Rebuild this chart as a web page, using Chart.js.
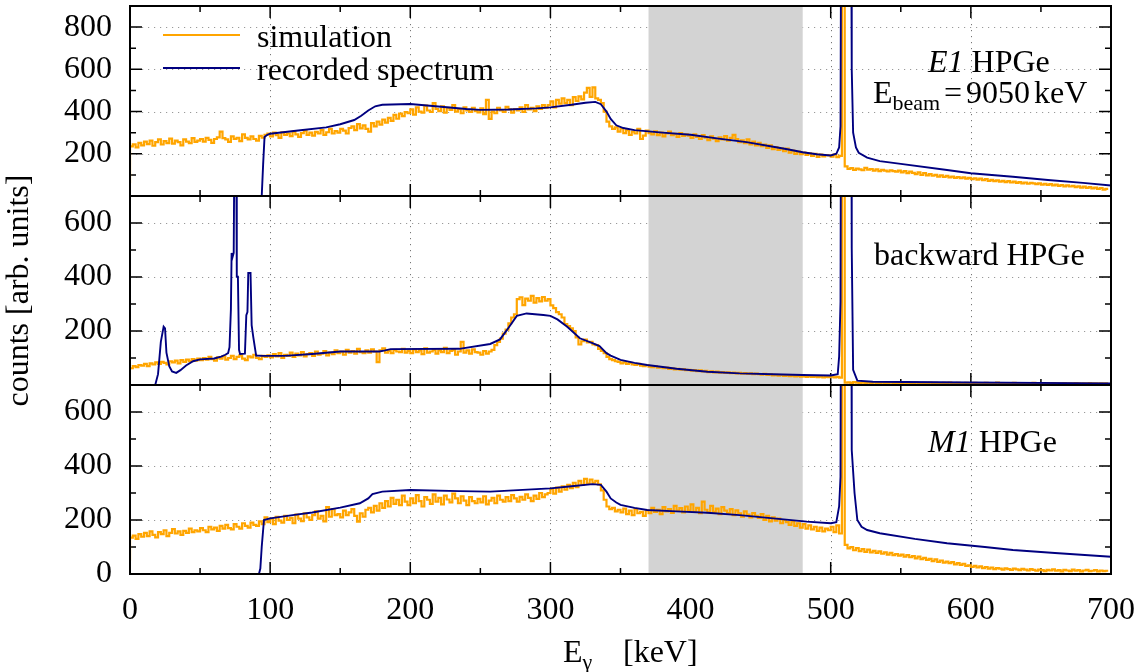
<!DOCTYPE html>
<html lang="en">
<head>
  <meta charset="UTF-8" />
  <title>HPGe spectra - simulation vs recorded</title>
  <script src="https://cdn.jsdelivr.net/npm/chart.js"></script>
  <style>
    html,body{margin:0;padding:0;background:#fff;}
    .stage{position:relative;width:1146px;height:672px;}
    .stage canvas{position:absolute;left:0;top:0;}
  </style>
</head>
<body>
  <div class="stage">
    <canvas id="panelE1" width="1146" height="672"></canvas>
    <canvas id="panelBack" width="1146" height="672"></canvas>
    <canvas id="panelM1" width="1146" height="672"></canvas>
  </div>

  <script>
    // histogram bin width of the simulated spectra (keV), bins start at 0
    const BIN_KEV = 2;

    const energyTicks = [0,100,200,300,400,500,600,700];
    const gapBand = [370,480];

    // ---- E1 HPGe ----
    const simE1 = [
      60,235,245,230,252,240,258,246,262,238,255,268,244,260,250,272,248,262,255,240,268,258,250,274,256,
      262,270,258,275,266,252,270,278,305,274,268,256,282,270,276,260,292,275,268,282,270,262,285,276,290,
      295,282,300,288,275,302,290,296,284,305,292,280,298,310,290,300,286,304,296,312,290,302,318,296,308,
      300,318,310,296,322,330,312,340,320,335,318,305,345,330,352,338,362,348,370,356,384,366,390,378,398,
      392,410,385,420,400,395,428,405,398,440,412,402,425,395,418,408,430,400,412,392,420,405,398,418,402,
      396,415,388,455,365,400,392,418,405,398,422,410,395,412,406,420,398,430,410,418,402,425,412,430,418,
      430,448,420,455,438,462,440,455,430,468,450,472,458,490,512,470,515,462,455,440,400,352,330,318,325,
      305,320,298,312,290,305,296,318,270,286,310,298,292,306,288,300,282,296,305,288,294,280,298,285,292,
      286,275,292,280,270,288,276,265,282,272,260,278,268,284,262,275,290,270,255,264,250,268,245,258,240,
      252,236,244,228,240,222,232,218,226,212,224,205,215,200,210,198,206,195,202,190,200,185,196,188,194,
      192,186,196,184,190,5000,140,128,132,124,130,126,122,133,125,128,120,126,118,124,120,116,122,118,115,
      120,112,118,108,115,110,104,112,100,108,98,104,96,100,92,98,90,95,88,92,86,90,84,88,82,
      86,80,84,78,82,75,80,72,76,70,74,68,72,66,70,64,68,62,66,60,64,58,62,60,56,
      60,54,58,52,56,50,54,48,52,46,50,45,48,42,46,40,44,38,42,36,40,34,38,30,34
    ];
    const recE1Energy = [
      0,94,95,96,98,100,120,140,150,160,
      165,170,175,180,200,220,240,250,270,290,
      300,315,325,332,336,340,343,347,352,360,
      380,400,420,440,460,470,480,490,500,504,
      506,507,507.5,514.5,515,516,518,520,526,535,
      550,583,600,630,655,680,700
    ];
    const recE1Counts = [
      0,0,150,280,290,295,310,325,340,360,
      380,405,425,432,436,424,412,408,410,415,
      420,432,442,446,435,400,365,335,322,312,
      300,290,272,255,232,220,207,198,192,200,
      230,330,1500,1500,600,300,230,205,182,165,
      152,123,108,91,76,62,50
    ];

    // ---- backward HPGe ----
    const simBack = [
      55,62,70,66,74,72,78,70,80,76,84,78,86,82,76,88,84,90,80,92,86,94,88,96,90,
      98,92,100,94,104,96,90,102,98,106,94,100,108,96,104,110,98,92,106,102,112,100,96,108,104,
      110,102,114,106,118,100,112,108,120,104,116,110,122,106,114,118,108,124,112,116,126,110,120,114,128,
      118,124,112,130,120,126,116,134,122,118,128,120,132,124,85,128,136,120,126,118,130,124,122,134,120,
      126,118,132,122,128,114,136,120,124,130,116,128,122,138,118,126,130,112,124,160,120,128,116,132,122,
      120,112,126,116,124,130,148,160,172,190,205,228,250,262,318,325,296,320,312,330,305,322,310,326,312,
      318,295,285,270,262,250,226,218,210,200,176,150,162,168,158,160,150,148,134,126,118,104,96,92,88,
      86,80,84,78,82,76,74,78,72,70,74,68,66,70,64,66,62,64,60,62,58,60,57,59,55,
      56,53,55,51,54,50,52,48,51,47,50,46,48,45,47,44,46,43,45,42,44,41,43,40,42,
      40,38,41,37,39,36,38,35,37,34,36,33,35,32,34,31,33,30,32,30,31,29,31,28,30,
      29,31,28,30,27,5000,9,10,8,11,9,8,10,7,9,8,10,7,8,9,7,8,10,7,8,
      8,7,9,6,8,7,9,7,6,8,7,9,6,8,7,6,8,7,9,6,7,8,6,7,8,
      7,6,8,6,7,5,8,6,7,6,9,6,7,5,7,6,8,6,7,5,6,7,6,8,6,
      6,5,7,6,5,7,6,5,6,7,5,6,5,7,6,5,6,5,7,5,6,5,6,5,6
    ];
    const recBackEnergy = [
      0,18,20,22,24,25,26,28,30,33,
      36,40,45,50,60,65,68,70,71,72,
      72.5,73,74,74.5,75.8,76.2,77,77.8,78.5,82,
      83,83.8,84.4,86,86.8,88,90,95,110,130,
      150,178,182,186,235,257,264,269,276,283,
      295,300,305,312,321,330,335,340,343,350,
      360,369,390,412,435,459,480,500,505,506,
      507,507.5,514.5,515,516,519,530,600,700
    ];
    const recBackCounts = [
      0,0,40,160,216,210,120,70,50,45,
      55,72,88,95,98,105,112,118,140,280,
      489,470,489,900,900,401,401,130,115,116,
      259,270,415,415,222,176,109,108,108,115,
      124,124,128,133,134,152,169,204,256,265,
      259,256,243,216,173,155,144,118,109,93,
      82,74,60,49,43,40,37,35,40,105,
      308,1500,1500,507,56,16,12,9,6
    ];

    // ---- M1 HPGe ----
    const simM1 = [
      50,135,142,130,148,138,152,140,158,145,136,155,148,162,140,152,166,150,158,145,160,152,168,155,162,
      158,170,162,155,175,165,172,160,178,168,182,170,165,185,175,168,188,178,172,190,182,178,195,185,210,
      192,205,185,212,198,190,215,200,208,188,220,205,196,225,210,200,218,232,205,215,195,248,212,240,218,
      222,210,235,218,228,240,215,194,225,212,238,245,228,252,235,262,245,270,250,282,260,275,255,290,268,
      255,280,262,292,270,250,285,275,260,295,268,282,258,290,276,265,298,280,262,288,272,255,285,270,262,
      278,265,288,258,272,282,262,290,275,268,285,270,292,280,268,286,275,295,282,270,290,278,300,285,295,
      300,315,298,320,305,325,312,330,318,338,322,345,330,352,335,350,338,345,332,310,275,250,240,245,232,
      238,228,242,222,235,218,240,225,230,215,236,225,245,230,238,222,248,232,240,226,252,235,244,228,250,
      235,258,230,245,225,268,238,228,252,230,242,222,248,235,226,240,218,236,225,212,232,220,210,226,215,
      208,222,200,215,195,210,198,205,188,200,192,182,195,178,188,172,185,168,180,165,175,160,172,158,168,
      162,175,155,180,150,5000,108,95,100,88,96,85,92,82,90,80,86,78,84,75,80,72,78,70,74,
      68,72,64,70,62,66,58,64,55,60,52,56,48,54,45,50,42,46,40,44,36,40,34,38,30,
      32,26,30,24,28,22,26,20,24,18,22,20,16,21,18,15,20,17,14,19,16,13,18,15,12,
      16,14,11,15,13,17,12,14,10,15,13,11,16,12,14,10,13,15,11,12,14,10,13,11,12
    ];
    const recM1Energy = [
      0,92,93,94,95.6,100,116,130,150,164,
      170,173,180,200,235,257,300,315,330,336,
      340,343,347,350,360,369,390,412,435,459,
      483,500,504,506,507,507.5,514.5,515,517,519,
      522,526,535,560,583,610,630,660,700
    ];
    const recM1Counts = [
      0,0,20,101,200,206,218,228,246,262,
      280,296,305,311,307,305,317,325,333,330,
      305,280,265,256,245,237,232,227,218,206,
      194,188,192,250,360,1500,1500,459,300,200,
      175,163,151,130,114,100,89,78,64
    ];

    const yTicksE1 = [200,400,600,800];
    const yTicksBack = [200,400,600];
    const yTicksM1 = [0,200,400,600];

    const SERIF = "'Liberation Serif', 'DejaVu Serif', serif";
    const ORANGE = '#ffa500';
    const NAVY = '#000080';
    const FONT_PX = 32;

    function hist(counts){ return counts.map((c,i)=>({x:i*BIN_KEV,y:c})); }
    function curve(E,C){ return E.map((e,i)=>({x:e,y:C[i]})); }

    // text runs; a run may jump to an absolute x with "at"
    function drawRuns(ctx,x,y,runs){
      runs.forEach(r=>{
        const size=r.size||FONT_PX;
        if(typeof r.at==='number') x=r.at;
        ctx.font=(r.italic?'italic ':'')+size+'px '+SERIF;
        ctx.fillText(r.t,x,y+(r.dy||0));
        x+=ctx.measureText(r.t).width;
      });
    }

    // frame, inward ticks, dotted grid, grey band, legend and panel labels
    function makeDeco(cfg){
      return {
        id:'panelDeco',
        beforeDatasetsDraw(chart){
          const {ctx,chartArea:a,scales:{x,y}}=chart;
          ctx.save();
          ctx.lineWidth=1;
          ctx.setLineDash([1.2,4.8]);
          ctx.strokeStyle='#777';
          energyTicks.forEach(v=>{
            if(v<=0||v>=700) return;
            const px=Math.round(x.getPixelForValue(v))+0.5;
            ctx.beginPath();ctx.moveTo(px,a.top);ctx.lineTo(px,a.bottom);ctx.stroke();
          });
          ctx.strokeStyle='#999';
          cfg.yTicks.forEach(v=>{
            if(v<=0) return;
            const py=Math.round(y.getPixelForValue(v))+0.5;
            ctx.beginPath();ctx.moveTo(a.left,py);ctx.lineTo(a.right,py);ctx.stroke();
          });
          ctx.setLineDash([]);
          ctx.strokeStyle='#000';
          ctx.lineWidth=1.5;
          for(let v=50;v<700;v+=50){
            const px=x.getPixelForValue(v), len=v%100===0?12:6;
            ctx.beginPath();
            ctx.moveTo(px,a.top);ctx.lineTo(px,a.top+len);
            ctx.moveTo(px,a.bottom);ctx.lineTo(px,a.bottom-len);
            ctx.stroke();
          }
          for(let v=100;v<cfg.yMax;v+=100){
            const py=y.getPixelForValue(v), len=v%200===0?12:6;
            ctx.beginPath();
            ctx.moveTo(a.left,py);ctx.lineTo(a.left+len,py);
            ctx.moveTo(a.right,py);ctx.lineTo(a.right-len,py);
            ctx.stroke();
          }
          const b0=x.getPixelForValue(gapBand[0]), b1=x.getPixelForValue(gapBand[1]);
          ctx.fillStyle='#d3d3d3';
          ctx.fillRect(b0,a.top,b1-b0,a.bottom-a.top);
          ctx.restore();
        },
        afterDatasetsDraw(chart){
          const {ctx,chartArea:a}=chart;
          ctx.save();
          ctx.strokeStyle='#000';
          ctx.lineWidth=2;
          ctx.strokeRect(a.left,a.top,a.right-a.left,a.bottom-a.top);
          ctx.restore();
        },
        afterDraw(chart){
          const {ctx}=chart;
          ctx.save();
          ctx.fillStyle='#000';
          ctx.textBaseline='alphabetic';
          ctx.textAlign='left';
          if(cfg.legend){
            [[ORANGE,'simulation',35],[NAVY,'recorded spectrum',68]].forEach(([c,t,ly])=>{
              ctx.strokeStyle=c;ctx.lineWidth=2;
              ctx.beginPath();ctx.moveTo(163,ly);ctx.lineTo(240,ly);ctx.stroke();
              ctx.font=FONT_PX+'px '+SERIF;
              ctx.fillText(t,257,ly+12);
            });
          }
          (cfg.texts||[]).forEach(l=>drawRuns(ctx,l.x,l.y,l.runs));
          ctx.restore();
        }
      };
    }

    function makePanel(id,cfg){
      const tickFont={family:SERIF,size:FONT_PX};
      return new Chart(document.getElementById(id),{
        type:'line',
        data:{datasets:[
          {label:'recorded spectrum',data:curve(cfg.recE,cfg.recC),borderColor:NAVY,
           borderWidth:1.9,pointRadius:0,tension:0,order:1},
          {label:'simulation',data:hist(cfg.sim),borderColor:ORANGE,
           borderWidth:2.2,pointRadius:0,stepped:'after',order:2}
        ]},
        options:{
          responsive:false,
          animation:false,
          layout:{padding:{top:cfg.padTop,bottom:cfg.padBottom,left:0,right:35}},
          plugins:{legend:{display:false},tooltip:{enabled:false}},
          scales:{
            x:{
              type:'linear',min:0,max:700,display:!!cfg.bottom,position:'bottom',
              afterFit(s){
                s.height=cfg.bottom?98:0;
                s.paddingLeft=0;s.paddingRight=0;
              },
              afterBuildTicks(s){s.ticks=energyTicks.map(v=>({value:v}));},
              grid:{display:false,drawTicks:false},border:{display:false},
              ticks:{font:tickFont,color:'#000',padding:17,maxRotation:0,autoSkip:false}
            },
            y:{
              type:'linear',min:0,max:cfg.yMax,position:'left',
              afterFit(s){s.width=130;s.paddingTop=0;s.paddingBottom=0;},
              afterBuildTicks(s){s.ticks=cfg.yTicks.map(v=>({value:v}));},
              grid:{display:false,drawTicks:false},border:{display:false},
              ticks:{font:tickFont,color:'#000',padding:18,autoSkip:false},
              title:{display:!!cfg.yTitle,text:cfg.yTitle||'',font:tickFont,color:'#000',padding:0}
            }
          }
        },
        plugins:[makeDeco(cfg)]
      });
    }

    makePanel('panelE1',{
      sim:simE1,recE:recE1Energy,recC:recE1Counts,yMax:900,yTicks:yTicksE1,
      padTop:6,padBottom:476,legend:true,
      texts:[
        {x:928,y:72,runs:[{t:'E1',italic:true},{t:' HPGe'}]},
        {x:873,y:103,runs:[{t:'E'},{t:'beam',size:22,dy:7},{t:'=',at:944},{t:'9050',at:966},{t:'keV',at:1034}]}
      ]
    });
    makePanel('panelBack',{
      sim:simBack,recE:recBackEnergy,recC:recBackCounts,yMax:700,yTicks:yTicksBack,
      padTop:196,padBottom:287,yTitle:'counts [arb. units]',
      texts:[{x:874,y:265,runs:[{t:'backward HPGe'}]}]
    });
    makePanel('panelM1',{
      sim:simM1,recE:recM1Energy,recC:recM1Counts,yMax:700,yTicks:yTicksM1,
      padTop:385,padBottom:0,bottom:true,
      texts:[
        {x:928,y:452,runs:[{t:'M1',italic:true},{t:' HPGe'}]},
        {x:563,y:662,runs:[{t:'E'},{t:'γ',size:22,dy:7},{t:'[keV]',at:623}]}
      ]
    });
  </script>
</body>
</html>
